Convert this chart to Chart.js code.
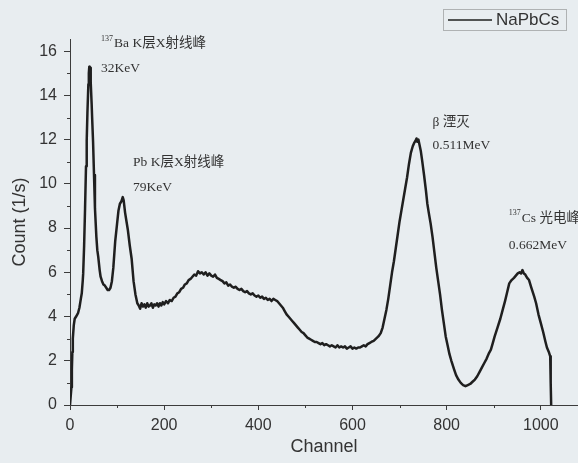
<!DOCTYPE html>
<html>
<head>
<meta charset="utf-8">
<script src="https://cdn.jsdelivr.net/npm/chart.js@4/dist/chart.umd.min.js"></script>
<style>
  html, body { margin: 0; padding: 0; background: #e8edf0; }
  canvas { display: block; }
</style>
</head>
<body>
<canvas id="spectrum" width="578" height="463"></canvas>
<script>
// NaPbCs gamma spectrum: count rate per MCA channel
const channels = [
  0, 2, 3, 4, 5, 6, 8, 10, 13, 17, 20, 23, 25, 27, 28, 30, 32, 34, 35.5, 37,
  39, 40, 41, 42, 43, 44, 46, 47, 49, 51, 53, 56, 58, 60, 63, 65, 68, 71, 74, 77,
  80, 83, 86, 89, 92, 96, 100, 103, 106, 109, 112, 114, 117, 120, 123, 127, 131, 135, 139, 143,
  146, 149, 152, 155, 158, 161, 164, 167, 170, 173, 176, 179, 182, 185, 188, 191, 194, 197, 200, 204,
  208, 212, 216, 220, 224, 228, 232, 236, 240, 244, 248, 252, 256, 260, 264, 268, 272, 276, 280, 284,
  288, 292, 296, 300, 304, 308, 312, 316, 320, 324, 328, 332, 336, 340, 344, 348, 352, 356, 360, 364,
  368, 372, 376, 380, 384, 388, 392, 396, 400, 404, 408, 412, 416, 420, 424, 428, 432, 436, 440, 444,
  448, 452, 456, 460, 464, 468, 472, 476, 480, 484, 488, 492, 496, 500, 504, 508, 512, 516, 520, 524,
  528, 532, 536, 540, 544, 548, 552, 556, 560, 564, 568, 572, 576, 580, 584, 588, 592, 596, 600, 604,
  608, 612, 616, 620, 624, 628, 632, 636, 640, 645, 650, 655, 660, 664, 668, 672, 676, 680, 684, 688,
  692, 696, 700, 704, 708, 712, 716, 720, 724, 728, 731, 734, 736, 738, 740, 742, 745, 748, 752, 756,
  759, 762, 766, 770, 774, 778, 782, 786, 790, 794, 798, 802, 806, 810, 816, 820, 825, 830, 835, 840,
  845, 850, 855, 860, 865, 870, 875, 880, 885, 890, 894, 898, 902, 908, 914, 919, 924, 928, 933, 938,
  943, 947, 951, 955, 958, 961, 964, 967, 971, 975, 980, 986, 990, 995, 1000, 1005, 1010, 1013, 1017, 1020,
  1021, 1022
];
const counts = [
  0, 0.0, 0.8, 1.6, 2.4, 3.0, 3.6, 3.9, 4.0, 4.15, 4.4, 4.8, 5.05, 5.6, 5.95, 7.2, 8.9, 10.8, 11.95, 13.2,
  14.5, 15.0, 15.3, 15.1, 15.25, 14.6, 13.6, 13.0, 11.9, 10.4, 8.9, 7.6, 7.0, 6.7, 6.1, 5.8, 5.6, 5.45, 5.4, 5.3,
  5.2, 5.2, 5.3, 5.6, 6.2, 7.4, 8.2, 8.8, 9.1, 9.2, 9.4, 9.25, 8.7, 8.3, 7.9, 7.2, 6.6, 5.6, 5.0, 4.6,
  4.5, 4.35, 4.6, 4.45, 4.55, 4.4, 4.6, 4.45, 4.5, 4.6, 4.4, 4.55, 4.5, 4.6, 4.45, 4.6, 4.5, 4.65, 4.55, 4.7,
  4.6, 4.75, 4.7, 4.85, 4.9, 5.05, 5.1, 5.25, 5.3, 5.45, 5.5, 5.65, 5.7, 5.8, 5.9, 5.85, 6.05, 5.95, 6.0, 5.9,
  6.0, 5.85, 5.95, 5.85, 5.8, 5.9, 5.75, 5.7, 5.65, 5.6, 5.5, 5.55, 5.4, 5.45, 5.35, 5.3, 5.35, 5.25, 5.2, 5.25,
  5.15, 5.1, 5.15, 5.05, 5.0, 5.05, 4.95, 4.9, 4.95, 4.85, 4.9, 4.8, 4.85, 4.75, 4.8, 4.7, 4.8, 4.75, 4.7, 4.6,
  4.5, 4.4, 4.25, 4.1, 4.0, 3.9, 3.8, 3.7, 3.6, 3.5, 3.4, 3.3, 3.25, 3.15, 3.05, 3.0, 2.95, 2.9, 2.85, 2.85,
  2.8, 2.75, 2.8, 2.7, 2.75, 2.7, 2.65, 2.7, 2.65, 2.6, 2.7, 2.6, 2.65, 2.6, 2.65, 2.55, 2.6, 2.65, 2.55, 2.6,
  2.55, 2.6, 2.6, 2.65, 2.7, 2.65, 2.75, 2.8, 2.85, 2.9, 3.0, 3.1, 3.25, 3.5, 3.9, 4.3, 4.8, 5.4, 6.0, 6.5,
  7.1, 7.7, 8.3, 8.8, 9.3, 9.8, 10.3, 10.9, 11.4, 11.7, 11.85, 11.95, 12.05, 11.9, 12.0, 11.8, 11.5, 11.05, 10.4, 9.7,
  9.1, 8.7, 8.2, 7.6, 6.9, 6.2, 5.6, 5.0, 4.3, 3.7, 3.1, 2.7, 2.3, 2.0, 1.6, 1.35, 1.15, 1.0, 0.9, 0.85,
  0.9, 0.95, 1.05, 1.15, 1.3, 1.5, 1.7, 1.9, 2.1, 2.35, 2.5, 2.8, 3.1, 3.5, 3.9, 4.3, 4.7, 5.05, 5.5, 5.65,
  5.75, 5.85, 5.95, 6.0, 5.95, 6.1, 5.95, 5.9, 5.75, 5.65, 5.3, 4.9, 4.6, 4.1, 3.7, 3.3, 2.85, 2.6, 2.4, 2.2,
  1.0, 0
];

// axis ranges and tick steps
const xRange = [0, 1079];
const yRange = [0, 16.55];
const xMajorStep = 200;
const yMajorStep = 2;

// peak annotations: anchor (channel, count) is the left end of the energy line
const peakNotes = [
  { iso: '137', name: 'Ba K层X射线峰', energy: '32KeV', channel: 66, count: 15.2, gap: 25 },
  { iso: '', name: 'Pb K层X射线峰', energy: '79KeV', channel: 134, count: 9.83, gap: 25 },
  { iso: '', name: 'β 湮灭', energy: '0.511MeV', channel: 770, count: 11.73, gap: 23 },
  { iso: '137', name: 'Cs 光电峰', energy: '0.662MeV', channel: 932, count: 7.22, gap: 27 }
];

const seriesName = 'NaPbCs';
const ink = '#1f1f1f';
const axisInk = '#3c3c3c';

const background = {
  id: 'background',
  beforeDraw(chart) {
    const { ctx, width, height } = chart;
    ctx.save();
    ctx.fillStyle = '#e8edf0';
    ctx.fillRect(0, 0, width, height);
    ctx.restore();
  }
};

// short minor ticks halfway between the labelled ones
const minorTicks = {
  id: 'minorTicks',
  afterDraw(chart) {
    const { ctx, chartArea, scales } = chart;
    ctx.save();
    ctx.strokeStyle = axisInk;
    ctx.lineWidth = 1;
    ctx.beginPath();
    for (let v = xMajorStep / 2; v < xRange[1]; v += xMajorStep) {
      const px = Math.round(scales.x.getPixelForValue(v)) + 0.5;
      ctx.moveTo(px, chartArea.bottom);
      ctx.lineTo(px, chartArea.bottom + 3);
    }
    for (let v = yMajorStep / 2; v < yRange[1]; v += yMajorStep) {
      const py = Math.round(scales.y.getPixelForValue(v)) + 0.5;
      ctx.moveTo(chartArea.left, py);
      ctx.lineTo(chartArea.left - 3, py);
    }
    ctx.stroke();
    ctx.restore();
  }
};

const latinCjk = '"Liberation Serif", "Noto Sans CJK SC", serif';

const notes = {
  id: 'notes',
  afterDatasetsDraw(chart) {
    const { ctx, scales } = chart;
    ctx.save();
    ctx.fillStyle = '#333';
    ctx.textBaseline = 'middle';
    ctx.textAlign = 'left';
    peakNotes.forEach(n => {
      const x = scales.x.getPixelForValue(n.channel);
      const y = scales.y.getPixelForValue(n.count);
      ctx.font = '13.5px ' + latinCjk;
      ctx.fillText(n.energy, x, y);
      let nx = x;
      if (n.iso) {
        ctx.font = '8px ' + latinCjk;
        ctx.fillText(n.iso, x, y - n.gap - 5);
        nx = x + ctx.measureText(n.iso).width + 1;
      }
      ctx.font = '13.5px ' + latinCjk;
      ctx.fillText(n.name, nx, y - n.gap);
    });
    ctx.restore();
  }
};

const legendBox = {
  id: 'legendBox',
  afterDraw(chart) {
    const { ctx } = chart;
    const x0 = 443, y0 = 9, w = 123, h = 21;
    ctx.save();
    ctx.strokeStyle = '#777';
    ctx.lineWidth = 1;
    ctx.setLineDash([1, 1]);
    ctx.strokeRect(x0 + 0.5, y0 + 0.5, w, h);
    ctx.setLineDash([]);
    ctx.strokeStyle = ink;
    ctx.lineWidth = 1.5;
    ctx.beginPath();
    ctx.moveTo(x0 + 5, y0 + 11);
    ctx.lineTo(x0 + 49, y0 + 11);
    ctx.stroke();
    ctx.fillStyle = '#333';
    ctx.font = '17px "Liberation Sans", Arial, sans-serif';
    ctx.textBaseline = 'middle';
    ctx.fillText(seriesName, x0 + 53, y0 + 11.5);
    ctx.restore();
  }
};

const tickFont = { family: '"Liberation Sans", Arial, sans-serif', size: 16 };
const titleFont = { family: '"Liberation Sans", Arial, sans-serif', size: 18 };

new Chart(document.getElementById('spectrum'), {
  type: 'line',
  data: {
    datasets: [{
      label: seriesName,
      data: channels.map((c, i) => ({ x: c, y: counts[i] })),
      borderColor: ink,
      borderWidth: 2.5,
      borderJoinStyle: 'round',
      pointRadius: 0,
      tension: 0,
      fill: false
    }]
  },
  options: {
    responsive: false,
    animation: false,
    layout: { padding: { top: 39, right: 0, left: 0, bottom: 0 } },
    plugins: { legend: { display: false }, tooltip: { enabled: false } },
    scales: {
      x: {
        type: 'linear',
        min: xRange[0],
        max: xRange[1],
        border: { display: true, color: axisInk, width: 1 },
        grid: { drawOnChartArea: false, drawTicks: true, tickLength: 5, color: axisInk },
        ticks: { stepSize: xMajorStep, includeBounds: false, color: '#333', font: tickFont, padding: 6, maxRotation: 0,
                 callback: v => String(v) },
        title: { display: true, text: 'Channel', color: '#333', font: titleFont, padding: { top: 0, bottom: 5 } },
        afterFit(scale) { scale.height = 58; }
      },
      y: {
        type: 'linear',
        min: yRange[0],
        max: yRange[1],
        border: { display: true, color: axisInk, width: 1 },
        grid: { drawOnChartArea: false, drawTicks: true, tickLength: 6, color: axisInk },
        ticks: { stepSize: yMajorStep, includeBounds: false, color: '#333', font: tickFont, padding: 7,
                 callback: v => String(v) },
        title: { display: true, text: 'Count (1/s)', color: '#333', font: titleFont, padding: { top: 9, bottom: 0 } },
        afterFit(scale) { scale.width = 70; }
      }
    }
  },
  plugins: [background, minorTicks, notes, legendBox]
});
</script>
</body>
</html>
